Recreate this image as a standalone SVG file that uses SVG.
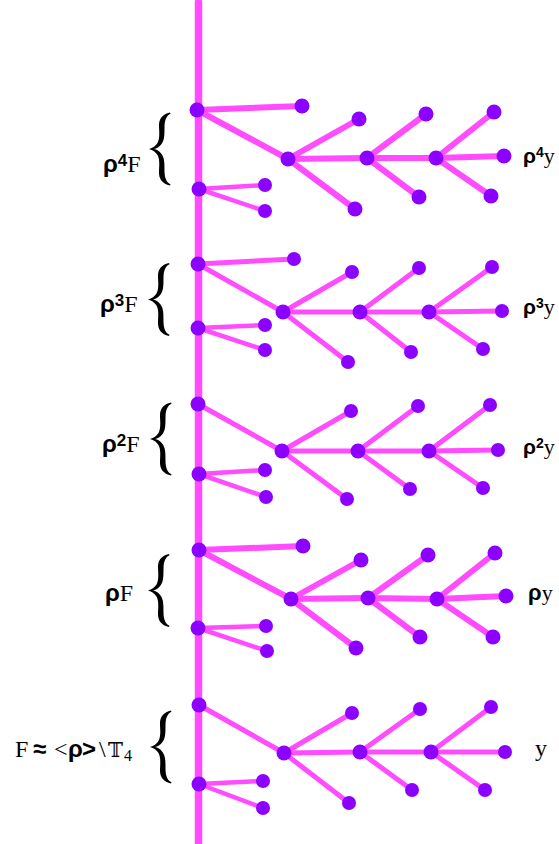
<svg xmlns="http://www.w3.org/2000/svg" width="559" height="844" viewBox="0 0 559 844">
<style>
.e{stroke:#ff4cff;stroke-linecap:round;fill:none}
.t{stroke-width:6}
.m{stroke-width:5}
.n{stroke-width:4.5}
.d{fill:#8b00ff}
.s{font-family:"Liberation Sans",Arial,sans-serif;font-weight:bold}
.r{font-family:"Liberation Serif","Times New Roman",serif}
.br{fill:#000}
</style>
<defs>
<path id="brace" d="M21,-36.5 C13.5,-35 9.5,-30 10,-22 C10.5,-14 10.5,-10 8.5,-6 C6.5,-3 4,-1 0,0 C4,1 6.5,3 8.5,6 C10.5,10 10.5,14 10,22 C9.5,30 13.5,35 21,36.5 L21.5,35.3 C17.5,33.5 15.5,29 15.5,22 C15.5,14 15.5,9 12.5,5 C10.5,2 7.5,0.5 5,0 C7.5,-0.5 10.5,-2 12.5,-5 C15.5,-9 15.5,-14 15.5,-22 C15.5,-29 17.5,-33.5 21.5,-35.3 Z"/>
</defs>
<rect width="559" height="844" fill="#fff"/>
<g id="connectors">
<line class="e" x1="198.5" y1="2" x2="198.5" y2="844" style="stroke-width:7.5"/>
<g class="e t">
<line x1="197" y1="110" x2="302" y2="106"/>
<line x1="197" y1="110" x2="288" y2="159"/>
<line x1="288" y1="159" x2="359" y2="119"/>
<line x1="288" y1="159" x2="355" y2="209"/>
<line x1="288" y1="159" x2="367" y2="158"/>
<line x1="367" y1="158" x2="426" y2="114"/>
<line x1="367" y1="158" x2="419" y2="197"/>
<line x1="367" y1="158" x2="436" y2="158"/>
<line x1="436" y1="158" x2="494" y2="112"/>
<line x1="436" y1="158" x2="491" y2="196"/>
<line x1="436" y1="158" x2="504" y2="156"/>
</g>
<g class="e n">
<line x1="199" y1="189" x2="265" y2="185"/>
<line x1="199" y1="189" x2="265" y2="211"/>
</g>
<g class="e m">
<line x1="198" y1="264" x2="294" y2="259"/>
<line x1="198" y1="264" x2="283" y2="312"/>
<line x1="283" y1="312" x2="352" y2="272"/>
<line x1="283" y1="312" x2="348" y2="362"/>
<line x1="283" y1="312" x2="360" y2="312"/>
<line x1="360" y1="312" x2="419" y2="268"/>
<line x1="360" y1="312" x2="411" y2="352"/>
<line x1="360" y1="312" x2="429" y2="312"/>
<line x1="429" y1="312" x2="492" y2="267"/>
<line x1="429" y1="312" x2="483" y2="349"/>
<line x1="429" y1="312" x2="502" y2="311"/>
</g>
<g class="e n">
<line x1="198" y1="328" x2="265" y2="325"/>
<line x1="198" y1="328" x2="265" y2="350"/>
</g>
<g class="e m">
<line x1="198" y1="404" x2="282" y2="451"/>
<line x1="282" y1="451" x2="351" y2="411"/>
<line x1="282" y1="451" x2="347" y2="499"/>
<line x1="282" y1="451" x2="358" y2="451"/>
<line x1="358" y1="451" x2="418" y2="406"/>
<line x1="358" y1="451" x2="410" y2="489"/>
<line x1="358" y1="451" x2="429" y2="451"/>
<line x1="429" y1="451" x2="490" y2="405"/>
<line x1="429" y1="451" x2="483" y2="488"/>
<line x1="429" y1="451" x2="498" y2="450"/>
</g>
<g class="e n">
<line x1="199" y1="474" x2="265" y2="470"/>
<line x1="199" y1="474" x2="266" y2="497"/>
</g>
<g class="e t">
<line x1="199" y1="550" x2="303" y2="546"/>
<line x1="199" y1="550" x2="291" y2="599"/>
<line x1="291" y1="599" x2="361" y2="560"/>
<line x1="291" y1="599" x2="356" y2="648"/>
<line x1="291" y1="599" x2="368" y2="598"/>
<line x1="368" y1="598" x2="428" y2="555"/>
<line x1="368" y1="598" x2="420" y2="637"/>
<line x1="368" y1="598" x2="437" y2="599"/>
<line x1="437" y1="599" x2="495" y2="553"/>
<line x1="437" y1="599" x2="493" y2="637"/>
<line x1="437" y1="599" x2="506" y2="596"/>
</g>
<g class="e n">
<line x1="198" y1="628" x2="266" y2="626"/>
<line x1="198" y1="628" x2="267" y2="651"/>
</g>
<g class="e m">
<line x1="199" y1="705" x2="284" y2="753"/>
<line x1="284" y1="753" x2="352" y2="713"/>
<line x1="284" y1="753" x2="349" y2="803"/>
<line x1="284" y1="753" x2="360" y2="752"/>
<line x1="360" y1="752" x2="420" y2="709"/>
<line x1="360" y1="752" x2="412" y2="790"/>
<line x1="360" y1="752" x2="431" y2="752"/>
<line x1="431" y1="752" x2="491" y2="707"/>
<line x1="431" y1="752" x2="485" y2="790"/>
<line x1="431" y1="752" x2="505" y2="752"/>
</g>
<g class="e n">
<line x1="199" y1="784" x2="263" y2="781"/>
<line x1="199" y1="784" x2="263" y2="808"/>
</g>
</g>
<g id="n4-A"><circle class="d" cx="197" cy="110" r="7.5"/></g>
<g id="n4-Ae"><circle class="d" cx="302" cy="106" r="7.5"/></g>
<g id="n4-H1"><circle class="d" cx="288" cy="159" r="7.5"/></g>
<g id="n4-H1u"><circle class="d" cx="359" cy="119" r="7.5"/></g>
<g id="n4-H1d"><circle class="d" cx="355" cy="209" r="7.5"/></g>
<g id="n4-H2"><circle class="d" cx="367" cy="158" r="7.5"/></g>
<g id="n4-H2u"><circle class="d" cx="426" cy="114" r="7.5"/></g>
<g id="n4-H2d"><circle class="d" cx="419" cy="197" r="7.5"/></g>
<g id="n4-H3"><circle class="d" cx="436" cy="158" r="7.5"/></g>
<g id="n4-H3u"><circle class="d" cx="494" cy="112" r="7.5"/></g>
<g id="n4-H3d"><circle class="d" cx="491" cy="196" r="7.5"/></g>
<g id="n4-H3r"><circle class="d" cx="504" cy="156" r="7.5"/></g>
<g id="n4-B"><circle class="d" cx="199" cy="189" r="7.5"/></g>
<g id="n4-Bu"><circle class="d" cx="265" cy="185" r="7"/></g>
<g id="n4-Bd"><circle class="d" cx="265" cy="211" r="7"/></g>
<g id="n3-A"><circle class="d" cx="198" cy="264" r="7.5"/></g>
<g id="n3-Ae"><circle class="d" cx="294" cy="259" r="7"/></g>
<g id="n3-H1"><circle class="d" cx="283" cy="312" r="7.5"/></g>
<g id="n3-H1u"><circle class="d" cx="352" cy="272" r="7"/></g>
<g id="n3-H1d"><circle class="d" cx="348" cy="362" r="7"/></g>
<g id="n3-H2"><circle class="d" cx="360" cy="312" r="7.5"/></g>
<g id="n3-H2u"><circle class="d" cx="419" cy="268" r="7"/></g>
<g id="n3-H2d"><circle class="d" cx="411" cy="352" r="7"/></g>
<g id="n3-H3"><circle class="d" cx="429" cy="312" r="7.5"/></g>
<g id="n3-H3u"><circle class="d" cx="492" cy="267" r="7"/></g>
<g id="n3-H3d"><circle class="d" cx="483" cy="349" r="7"/></g>
<g id="n3-H3r"><circle class="d" cx="502" cy="311" r="7"/></g>
<g id="n3-B"><circle class="d" cx="198" cy="328" r="7.5"/></g>
<g id="n3-Bu"><circle class="d" cx="265" cy="325" r="7"/></g>
<g id="n3-Bd"><circle class="d" cx="265" cy="350" r="7"/></g>
<g id="n2-A"><circle class="d" cx="198" cy="404" r="7.5"/></g>
<g id="n2-H1"><circle class="d" cx="282" cy="451" r="7.5"/></g>
<g id="n2-H1u"><circle class="d" cx="351" cy="411" r="7"/></g>
<g id="n2-H1d"><circle class="d" cx="347" cy="499" r="7"/></g>
<g id="n2-H2"><circle class="d" cx="358" cy="451" r="7.5"/></g>
<g id="n2-H2u"><circle class="d" cx="418" cy="406" r="7"/></g>
<g id="n2-H2d"><circle class="d" cx="410" cy="489" r="7"/></g>
<g id="n2-H3"><circle class="d" cx="429" cy="451" r="7.5"/></g>
<g id="n2-H3u"><circle class="d" cx="490" cy="405" r="7"/></g>
<g id="n2-H3d"><circle class="d" cx="483" cy="488" r="7"/></g>
<g id="n2-H3r"><circle class="d" cx="498" cy="450" r="7"/></g>
<g id="n2-B"><circle class="d" cx="199" cy="474" r="7.5"/></g>
<g id="n2-Bu"><circle class="d" cx="265" cy="470" r="7"/></g>
<g id="n2-Bd"><circle class="d" cx="266" cy="497" r="7"/></g>
<g id="n1-A"><circle class="d" cx="199" cy="550" r="7.5"/></g>
<g id="n1-Ae"><circle class="d" cx="303" cy="546" r="7.5"/></g>
<g id="n1-H1"><circle class="d" cx="291" cy="599" r="7.5"/></g>
<g id="n1-H1u"><circle class="d" cx="361" cy="560" r="7.5"/></g>
<g id="n1-H1d"><circle class="d" cx="356" cy="648" r="7.5"/></g>
<g id="n1-H2"><circle class="d" cx="368" cy="598" r="7.5"/></g>
<g id="n1-H2u"><circle class="d" cx="428" cy="555" r="7.5"/></g>
<g id="n1-H2d"><circle class="d" cx="420" cy="637" r="7.5"/></g>
<g id="n1-H3"><circle class="d" cx="437" cy="599" r="7.5"/></g>
<g id="n1-H3u"><circle class="d" cx="495" cy="553" r="7.5"/></g>
<g id="n1-H3d"><circle class="d" cx="493" cy="637" r="7.5"/></g>
<g id="n1-H3r"><circle class="d" cx="506" cy="596" r="7.5"/></g>
<g id="n1-B"><circle class="d" cx="198" cy="628" r="7.5"/></g>
<g id="n1-Bu"><circle class="d" cx="266" cy="626" r="7"/></g>
<g id="n1-Bd"><circle class="d" cx="267" cy="651" r="7"/></g>
<g id="n0-A"><circle class="d" cx="199" cy="705" r="7.5"/></g>
<g id="n0-H1"><circle class="d" cx="284" cy="753" r="7.5"/></g>
<g id="n0-H1u"><circle class="d" cx="352" cy="713" r="7"/></g>
<g id="n0-H1d"><circle class="d" cx="349" cy="803" r="7"/></g>
<g id="n0-H2"><circle class="d" cx="360" cy="752" r="7.5"/></g>
<g id="n0-H2u"><circle class="d" cx="420" cy="709" r="7"/></g>
<g id="n0-H2d"><circle class="d" cx="412" cy="790" r="7"/></g>
<g id="n0-H3"><circle class="d" cx="431" cy="752" r="7.5"/></g>
<g id="n0-H3u"><circle class="d" cx="491" cy="707" r="7"/></g>
<g id="n0-H3d"><circle class="d" cx="485" cy="790" r="7"/></g>
<g id="n0-H3r"><circle class="d" cx="505" cy="752" r="7"/></g>
<g id="n0-B"><circle class="d" cx="199" cy="784" r="7.5"/></g>
<g id="n0-Bu"><circle class="d" cx="263" cy="781" r="7"/></g>
<g id="n0-Bd"><circle class="d" cx="263" cy="808" r="7"/></g>
<g id="braces" class="br">
<use href="#brace" transform="translate(149,149)"/>
<use href="#brace" transform="translate(148,299.5)"/>
<use href="#brace" transform="translate(150,439)"/>
<use href="#brace" transform="translate(148,590.5)"/>
<use href="#brace" transform="translate(150,747)"/>
</g>
<g id="label-l4"><text x="103" y="172" font-size="24"><tspan class="s">ρ</tspan><tspan class="s" font-size="17" dy="-6">4</tspan><tspan class="r" dy="6">F</tspan></text></g>
<g id="label-l3"><text x="100" y="312" font-size="24"><tspan class="s">ρ</tspan><tspan class="s" font-size="17" dy="-6">3</tspan><tspan class="r" dy="6">F</tspan></text></g>
<g id="label-l2"><text x="102" y="452" font-size="24"><tspan class="s">ρ</tspan><tspan class="s" font-size="17" dy="-6">2</tspan><tspan class="r" dy="6">F</tspan></text></g>
<g id="label-l1"><text x="105" y="601" font-size="24"><tspan class="s">ρ</tspan><tspan class="r">F</tspan></text></g>
<g id="label-l0"><text y="757" font-size="24"><tspan class="r" x="15">F</tspan><tspan class="s" x="33">≈</tspan><tspan class="r" x="54">&lt;</tspan><tspan class="s" x="68">ρ</tspan><tspan class="s" x="82">&gt;</tspan><tspan class="r" x="99">\</tspan><tspan class="r" x="108" style="font-family:'DejaVu Serif','DejaVu Sans',serif" font-size="20">𝕋</tspan><tspan class="r" x="124" y="761" font-size="16">4</tspan></text></g>
<g id="label-r4"><text x="523" y="163" font-size="21"><tspan class="s">ρ</tspan><tspan class="s" font-size="14" dy="-6">4</tspan><tspan class="r" font-size="22" dy="6">y</tspan></text></g>
<g id="label-r3"><text x="523" y="314" font-size="21"><tspan class="s">ρ</tspan><tspan class="s" font-size="14" dy="-6">3</tspan><tspan class="r" font-size="22" dy="6">y</tspan></text></g>
<g id="label-r2"><text x="523" y="454" font-size="21"><tspan class="s">ρ</tspan><tspan class="s" font-size="14" dy="-6">2</tspan><tspan class="r" font-size="22" dy="6">y</tspan></text></g>
<g id="label-r1"><text x="528" y="600" font-size="22"><tspan class="s">ρ</tspan><tspan class="r">y</tspan></text></g>
<g id="label-r0"><text x="535" y="756" font-size="24" class="r">y</text></g>
</svg>
